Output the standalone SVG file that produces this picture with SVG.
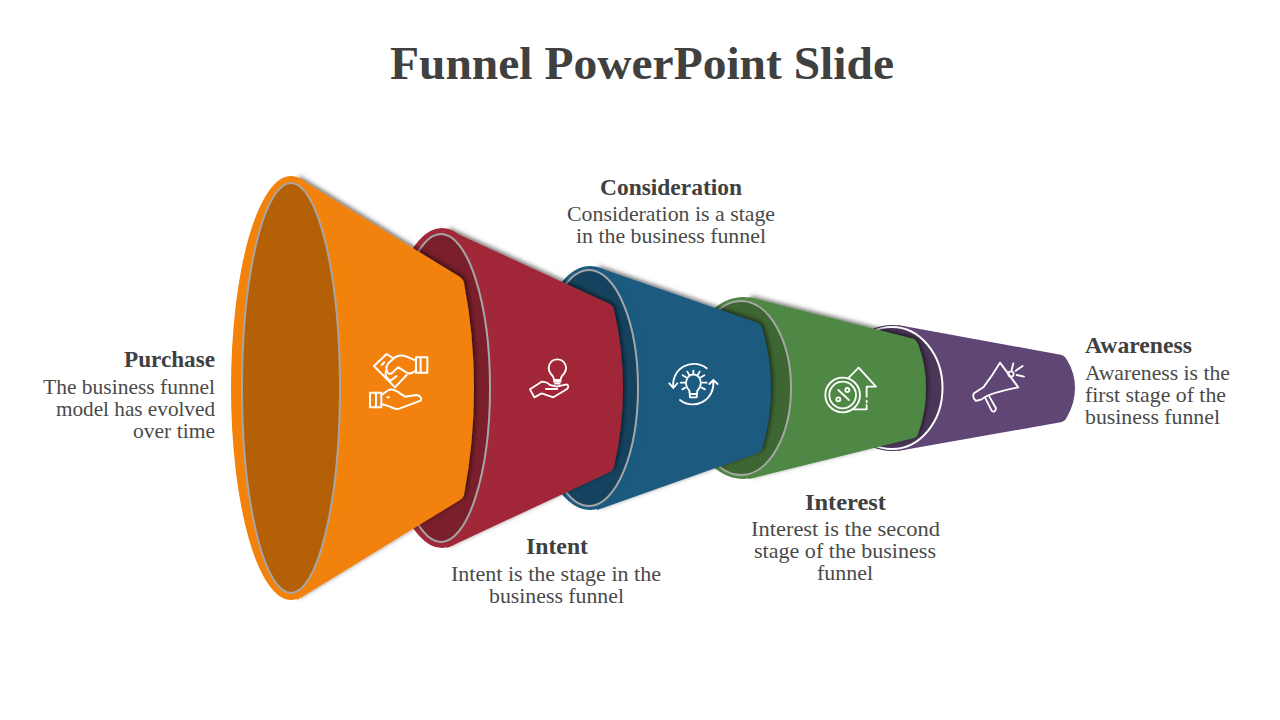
<svg xmlns="http://www.w3.org/2000/svg" width="1280" height="720" viewBox="0 0 1280 720">
<defs>
<filter id="sh" x="-15%" y="-15%" width="130%" height="130%"><feDropShadow dx="2" dy="-1.500" stdDeviation="2.200" flood-color="#000" flood-opacity="0.55"/></filter>
</defs>
<style>
text{font-family:"Liberation Serif","DejaVu Serif",serif;fill:#404040}
.t{font-size:46px;font-weight:700}
.h{font-size:22.5px;font-weight:700}
.b{font-size:21.5px;fill:#4a4a4a}
.i{fill:none;stroke:#fff;stroke-width:5.500;stroke-linecap:round;stroke-linejoin:round}
.r{stroke:#a6a6a6;stroke-width:2}
</style>
<rect width="1280" height="720" fill="#fff"/>
<text class="t" x="390" y="79" textLength="504" lengthAdjust="spacingAndGlyphs">Funnel PowerPoint Slide</text>
<g id="connectors"/>

<g id="awareness">
<ellipse cx="892" cy="388" rx="57" ry="63" fill="#4a3658"/>
<path d="M898 325L1062 355Q1066 357 1067 360Q1075 373 1075 388Q1075 403 1067 417Q1066 420 1062 422L898 451Z" fill="#5f4675"/>
<ellipse cx="892" cy="388" rx="50.500" ry="61" fill="#4a3658" stroke="#fff" stroke-width="2"/>
<g transform="translate(950 340) scale(.3333)" class="i">
<path d="M150 68Q125 110 100 142L72 160Q65 172 78 183L95 178Q115 160 205 142Z"/>
<path d="M105 172L125 212Q135 220 138 205L118 170"/>
<circle cx="183" cy="102" r="8"/>
<path d="M185 90L190 70M197 92L218 78M200 105L222 110"/>
</g>
</g>

<g id="interest">
<path filter="url(#sh)" fill="#4f8744" d="M749 297L914 339Q917 341 918 344Q926 365 926 388Q926 412 918 434Q917 437 914 438L749 479Z"/>
<ellipse cx="743" cy="388" rx="60" ry="91" fill="#4f8744"/>
<ellipse cx="741" cy="388" rx="50" ry="87" fill="#3e6632" class="r"/>
<g transform="translate(650 340) scale(.3333)" class="i">
<circle cx="578" cy="165" r="52"/><circle cx="578" cy="165" r="40"/>
<path d="M565 150L597 180"/><circle cx="592" cy="150" r="6"/><circle cx="565" cy="178" r="6"/>
<path d="M597 112L626 83L678 140L650 140V170M650 182V187M650 195V208H612"/>
</g>
</g>

<g id="consideration">
<path filter="url(#sh)" fill="#1b5a80" d="M597 267L758 323Q761 325 762 328Q771 358 771 388Q771 419 762 449Q761 452 758 453L597 510Z"/>
<ellipse cx="590" cy="388" rx="57" ry="122" fill="#1b5a80"/>
<ellipse cx="589" cy="388" rx="49" ry="118" fill="#15435f" class="r"/>
<g transform="translate(650 340) scale(.3333)" class="i">
<path d="M170 85A62 62 0 0 0 70 142M58 130L70 144L82 130"/>
<path d="M90 180A62 62 0 0 0 190 125M178 132L190 120L203 132"/>
<path d="M118 152C98 130 112 104 130 104C150 104 162 130 142 152L140 172H120Z"/>
<path d="M120 162H140"/>
<path d="M92 128H104M97 148L106 143M98 106L108 112M112 95L117 104M130 92V101M149 95L144 104M163 106L153 112M170 128H158M165 148L155 143"/>
</g>
</g>

<g id="intent">
<path filter="url(#sh)" fill="#a02838" d="M447 229L610 304Q613 306 614 310Q623 349 623 388Q623 428 614 467Q613 470 610 472L447 548Z"/>
<ellipse cx="442" cy="388" rx="60" ry="160" fill="#a02838"/>
<ellipse cx="441" cy="388" rx="49" ry="154" fill="#7a1f2b" class="r"/>
<g transform="translate(350 340) scale(.3333)" class="i">
<path d="M608 108C585 85 600 58 622 58C644 58 660 85 636 108Q632 114 632 120H612Q612 114 608 108Z"/>
<path d="M612 125H632M615 131H629"/>
<path d="M540 148L553 172L575 160L610 172L650 148Q660 138 650 133L620 140L600 135Q590 125 575 125ZM588 147H622"/>
</g>
</g>

<g id="purchase">
<path filter="url(#sh)" fill="#f2820a" d="M297 177L460 277Q463 279 464 283Q474 335 474 388Q474 442 464 495Q463 498 460 500L297 600Z"/>
<ellipse cx="291" cy="388" rx="60" ry="212" fill="#f2820a"/>
<ellipse cx="291" cy="388" rx="49" ry="205" fill="#b36007" class="r"/>
<g transform="translate(350 340) scale(.3333)" class="i" style="stroke-width:6">
<path d="M110 42L72 78L135 142L170 105M110 42L130 55"/>
<path d="M198 62L170 50Q150 42 135 52L115 70Q103 85 115 100Q125 105 135 90L145 82L170 98Q180 105 198 92"/>
<path d="M108 92Q102 112 122 122L140 108M95 75L103 67"/>
<rect x="198" y="52" width="34" height="46"/><path d="M212 52V98"/>
<rect x="60" y="158" width="34" height="44"/><path d="M78 158V202"/>
<path d="M94 166L115 150Q130 145 150 160L165 170L200 165Q218 170 212 182L150 205Q135 210 120 200L94 192M112 172H117"/>
</g>
</g>

<g id="labels">
<text class="h" x="124" y="367" textLength="91" lengthAdjust="spacingAndGlyphs">Purchase</text>
<text class="b" x="43" y="394" textLength="172" lengthAdjust="spacingAndGlyphs">The business funnel</text>
<text class="b" x="56" y="416" textLength="159" lengthAdjust="spacingAndGlyphs">model has evolved</text>
<text class="b" x="133" y="438" textLength="82" lengthAdjust="spacingAndGlyphs">over time</text>
<text class="h" x="600" y="195" textLength="142" lengthAdjust="spacingAndGlyphs">Consideration</text>
<text class="b" x="567" y="221" textLength="208" lengthAdjust="spacingAndGlyphs">Consideration is a stage</text>
<text class="b" x="576" y="243" textLength="190" lengthAdjust="spacingAndGlyphs">in the business funnel</text>
<text class="h" x="526" y="554" textLength="62" lengthAdjust="spacingAndGlyphs">Intent</text>
<text class="b" x="451" y="581" textLength="210" lengthAdjust="spacingAndGlyphs">Intent is the stage in the</text>
<text class="b" x="489" y="603" textLength="135" lengthAdjust="spacingAndGlyphs">business funnel</text>
<text class="h" x="805" y="510" textLength="81" lengthAdjust="spacingAndGlyphs">Interest</text>
<text class="b" x="751" y="536" textLength="189" lengthAdjust="spacingAndGlyphs">Interest is the second</text>
<text class="b" x="754" y="558" textLength="182" lengthAdjust="spacingAndGlyphs">stage of the business</text>
<text class="b" x="817" y="580" textLength="56" lengthAdjust="spacingAndGlyphs">funnel</text>
<text class="h" x="1085" y="353" textLength="107" lengthAdjust="spacingAndGlyphs">Awareness</text>
<text class="b" x="1085" y="380" textLength="145" lengthAdjust="spacingAndGlyphs">Awareness is the</text>
<text class="b" x="1085" y="402" textLength="141" lengthAdjust="spacingAndGlyphs">first stage of the</text>
<text class="b" x="1085" y="424" textLength="135" lengthAdjust="spacingAndGlyphs">business funnel</text>
</g>
</svg>
